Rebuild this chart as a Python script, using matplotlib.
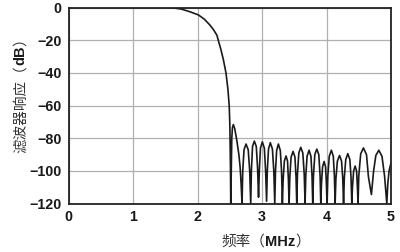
import matplotlib
matplotlib.use("Agg")
import matplotlib.pyplot as plt

# Passband / transition readings (MHz, dB)
pass_f = [0.0, 1.50, 1.62, 1.75, 1.88, 2.01, 2.10, 2.19, 2.25, 2.30, 2.32, 2.36, 2.40, 2.44, 2.47, 2.49, 2.50, 2.51, 2.514]
pass_db = [0.0, 0.0, -0.2, -1.0, -2.6, -4.5, -7.0, -10.7, -13.8, -17.0, -20.0, -25.5, -32.0, -40.0, -50.0, -60.0, -72.0, -100.0, -120.0]

# Stopband readings (MHz, dB)
stop_f = [2.514, 2.53, 2.54, 2.554, 2.575, 2.607, 2.64, 2.66, 2.675, 2.689,
          2.70, 2.72, 2.751, 2.785, 2.808, 2.824,
          2.834, 2.852, 2.880, 2.91, 2.93, 2.945,
          2.957, 2.975, 3.004, 3.035, 3.055, 3.070,
          3.081, 3.10, 3.128, 3.16, 3.182, 3.197,
          3.208, 3.226, 3.253, 3.283, 3.302, 3.315,
          3.326, 3.345, 3.372, 3.395, 3.409, 3.419,
          3.43, 3.45, 3.481, 3.51, 3.527, 3.538,
          3.549, 3.57, 3.60, 3.632, 3.654, 3.667,
          3.678, 3.698, 3.729, 3.758, 3.775, 3.786,
          3.797, 3.818, 3.849, 3.88, 3.90, 3.911,
          3.921, 3.938, 3.962, 3.985, 3.998, 4.008,
          4.02, 4.042, 4.075, 4.105, 4.122, 4.133,
          4.145, 4.168, 4.202, 4.233, 4.252, 4.264,
          4.276, 4.298, 4.330, 4.362, 4.38, 4.392,
          4.402, 4.42, 4.443, 4.466, 4.479, 4.489,
          4.50, 4.53, 4.572, 4.62, 4.65, 4.696,
          4.73, 4.765, 4.811, 4.86, 4.90, 4.935,
          4.95, 4.97, 5.0]
stop_db = [-120, -80, -73.5, -71.6, -74, -81, -90, -98, -108, -120,
           -100, -87, -83.5, -87, -100, -120,
           -100, -85, -81.7, -85, -98, -116,
           -100, -86, -82.2, -86, -100, -118.5,
           -100, -86.5, -82.7, -86.5, -100, -120,
           -100, -87.5, -83.5, -87.5, -100, -120,
           -106, -94, -90.8, -94, -106, -120,
           -104, -91.5, -88, -91.5, -104, -120,
           -102, -89, -85.5, -89, -102, -120,
           -103, -91, -87.3, -91, -103, -120,
           -103, -90, -86.6, -90, -103, -120,
           -108, -97.5, -94.2, -97.5, -108, -120,
           -103, -91, -87.3, -91, -103, -120,
           -105, -94, -90.5, -94, -105, -120,
           -104, -93, -89.4, -93, -104, -120,
           -110, -100, -97, -100, -110, -120,
           -103, -89.5, -85.9, -90, -103.6, -114.4,
           -100, -90.5, -87.3, -91, -103, -120,
           -108, -100, -95]

xticks = [0, 1, 2, 3, 4, 5]
yticks = [0, -20, -40, -60, -80, -100, -120]

fig = plt.figure(figsize=(4.0, 2.52), dpi=100)
ax = fig.add_axes([68.7 / 400, 1 - 203.7 / 252, (391 - 68.7) / 400, (203.7 - 7.5) / 252])

ax.plot(pass_f + stop_f, pass_db + stop_db, color="#1a1a1a", lw=1.2, solid_joinstyle="round")

ax.set_xlim(0, 5)
ax.set_ylim(-120, 0)
ax.set_xticks(xticks)
ax.set_yticks(yticks)
ax.set_yticklabels(["0" if v == 0 else "\u2212%d" % (-v) for v in yticks])
ax.grid(True, color="#b0b0b0", lw=0.9)
ax.set_axisbelow(True)
ax.tick_params(length=0, labelsize=10.3)
ax.tick_params(axis="x", pad=4.5)
ax.tick_params(axis="y", pad=5)
for lab in ax.get_xticklabels() + ax.get_yticklabels():
    lab.set_fontfamily("Liberation Sans")
    lab.set_fontweight("bold")
    lab.set_color("#1a1a1a")
for s in ax.spines.values():
    s.set_color("#222222")
    s.set_linewidth(1.3)

cjk = ["Noto Sans CJK SC", "DejaVu Sans"]
fs = 10.5
# x label: 频率（MHz）
t1 = fig.text(221 / 400, 1 - 242 / 252, "频率（", family=cjk, fontsize=fs,
              color="#333333", ha="left", va="center")
t2 = ax.annotate("MHz", xy=(1, 0.5), xycoords=t1, ha="left", va="center",
                 family="Liberation Sans", fontweight="bold", fontsize=fs, color="#1a1a1a")
ax.annotate("）", xy=(1, 0.5), xycoords=t2, ha="left", va="center",
            family=cjk, fontsize=fs, color="#333333")

# y label: 滤波器响应（dB）
y1 = fig.text(20.5 / 400, 1 - 153 / 252, "滤波器响应（", family=cjk, fontsize=fs,
              color="#333333", rotation=90, ha="center", va="bottom")
ya = ax.annotate("dB", xy=(0.5, 1), xycoords=y1, ha="center", va="bottom", rotation=90,
                 family="Liberation Sans", fontweight="bold", fontsize=fs, color="#1a1a1a")
ax.annotate("）", xy=(0.5, 1), xycoords=ya, ha="center", va="bottom", rotation=90,
            family=cjk, fontsize=fs, color="#333333")

fig.savefig("out.png", dpi=100)
